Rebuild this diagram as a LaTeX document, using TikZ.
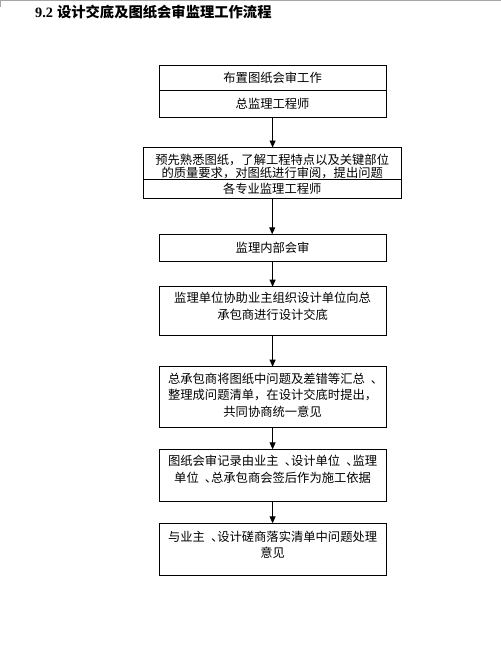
\documentclass[tikz,border=0pt]{standalone}
\usepackage{fontspec}
\setmainfont{Liberation Serif}
\newfontfamily\cjk{Noto Sans CJK SC}
\usetikzlibrary{arrows.meta}
\newcommand\dunhao{\hbox to 1em{\hskip0.5em 、\hss}}
\begin{document}
\begin{tikzpicture}[x=1bp,y=-1bp,
  box/.style={draw=black,line width=0.9bp,minimum width=226.7bp,inner sep=0pt,outer sep=0pt},
  txt/.style={font=\cjk\fontsize{12.3bp}{16.5bp}\selectfont,align=center,inner sep=0pt},
  arr/.style={-{Triangle[width=6bp,length=7bp]},line width=0.9bp}]
\useasboundingbox (0,0) rectangle (501,660);
\fill[white] (0,0) rectangle (501,660);
% top frame line
\coordinate (fl) at (0,0.5);
\coordinate (fr) at (501,0.5);
\coordinate (fd) at (0.5,7);
\draw[gray!70,line width=1bp] (fl) -- (fr);
\draw[gray!70,line width=1bp] (0.5,0) -- (fd);
% title
\node[anchor=west,inner sep=0pt,font=\fontsize{14.3bp}{16bp}\selectfont] (title) at (35,12.5)
  {\textbf{9.2}\hspace{4bp}{\cjk\bfseries 设计交底及图纸会审监理工作流程}};
% box 1
\node[box,txt,minimum height=25bp] (b1a) at (272.6,78.2) {布置图纸会审工作};
\node[box,txt,minimum height=26.3bp] (b1b) at (272.6,103.85) {总监理工程师};
% box 2
\node[box,minimum width=257.7bp,minimum height=31.8bp] (b2a) at (272.2,163.4) {};
\node[txt,font=\cjk\fontsize{12.3bp}{13bp}\selectfont] (t2a) at (272.2,166.5)
  {预先熟悉图纸，了解工程特点以及关键部位\\的质量要求，对图纸进行审阅，提出问题};
\node[box,txt,minimum width=257.7bp,minimum height=18.7bp] (b2b) at (272.2,188.65) {各专业监理工程师};
% box 3
\node[box,txt,minimum height=27.4bp] (b3) at (272.6,248) {监理内部会审};
% box 4
\node[box,minimum height=48.3bp] (b4) at (272.6,310.85) {};
\node[txt] (t4) at (272.6,306.5) {监理单位协助业主组织设计单位向总\\承包商进行设计交底};
% box 5
\node[box,minimum height=61bp] (b5) at (272.6,397.2) {};
\node[txt] (t5) at (272.6,395) {总承包商将图纸中问题及差错等汇总\dunhao\\整理成问题清单，在设计交底时提出，\\共同协商统一意见};
% box 6
\node[box,minimum height=51.7bp] (b6) at (272.6,475.15) {};
\node[txt] (t6) at (272.6,469.5) {图纸会审记录由业主\dunhao 设计单位\dunhao 监理\\单位\dunhao 总承包商会签后作为施工依据};
% box 7
\node[box,minimum height=52.4bp] (b7) at (272.6,549.5) {};
\node[txt] (t7) at (272.6,545) {与业主\dunhao 设计磋商落实清单中问题处理\\意见};
% arrows
\draw[arr] (b1b.south) -- (b1b.south |- b2a.north);
\draw[arr] (b2b.south) -- (b2b.south |- b3.north);
\draw[arr] (b3.south) -- (b4.north);
\draw[arr] (b4.south) -- (b5.north);
\draw[arr] (b5.south) -- (b6.north);
\draw[arr] (b6.south) -- (b7.north);
\end{tikzpicture}
\end{document}
